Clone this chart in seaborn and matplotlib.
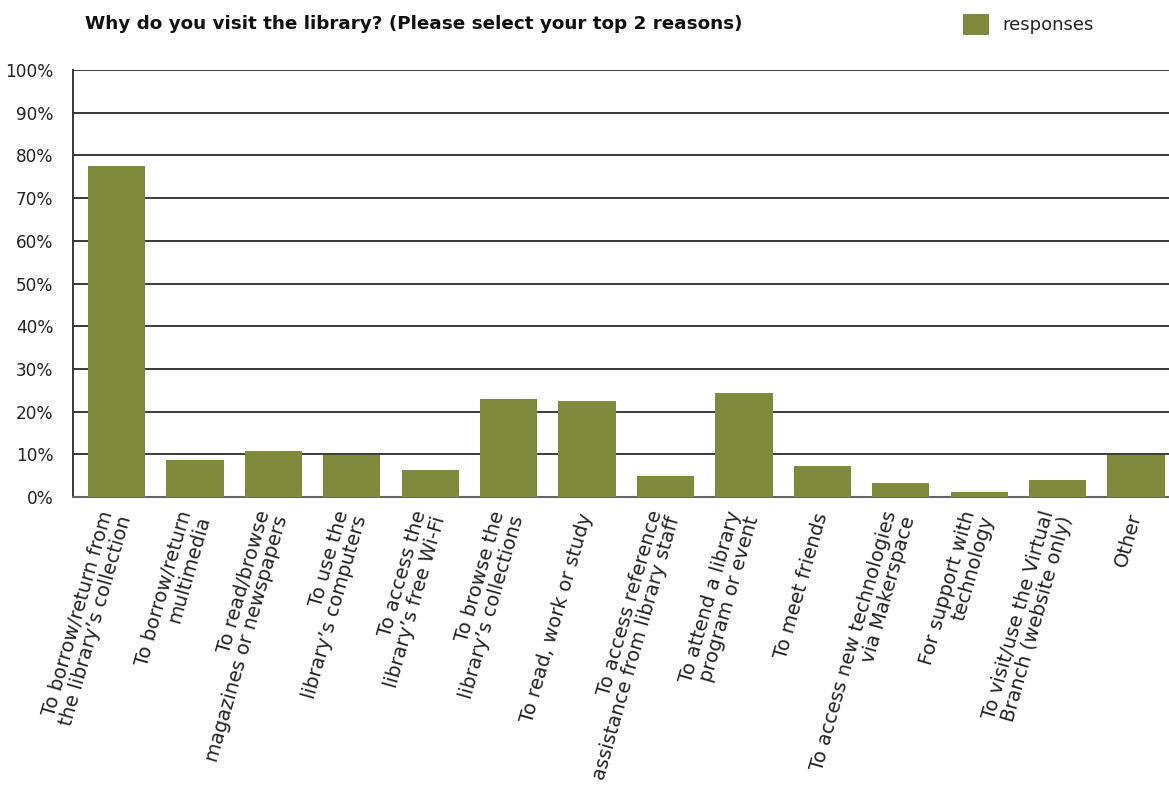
import matplotlib
matplotlib.use("Agg")
import matplotlib.pyplot as plt
from matplotlib.patches import Patch
from matplotlib.ticker import FuncFormatter
import seaborn as sns
import pandas as pd

reasons = [
    "To borrow/return from\nthe library’s collection",
    "To borrow/return\nmultimedia",
    "To read/browse\nmagazines or newspapers",
    "To use the\nlibrary’s computers",
    "To access the\nlibrary’s free Wi-Fi",
    "To browse the\nlibrary’s collections",
    "To read, work or study",
    "To access reference\nassistance from library staff",
    "To attend a library\nprogram or event",
    "To meet friends",
    "To access new technologies\nvia Makerspace",
    "For support with\ntechnology",
    "To visit/use the Virtual\nBranch (website only)",
    "Other",
]
responses = [77.5, 8.7, 10.8, 9.8, 6.3, 23.0, 22.5, 4.9, 24.4, 7.3, 3.3, 1.2, 4.0, 9.8]
y_ticks = [0, 10, 20, 30, 40, 50, 60, 70, 80, 90, 100]

title = "Why do you visit the library? (Please select your top 2 reasons)"
legend_label = "responses"
bar_color = "#808A3C"
text_color = "#222222"

sns.set_theme(style="white")
plt.rcParams["font.family"] = ["DejaVu Sans"]

df = pd.DataFrame({"reason": reasons, "value": responses})

fig = plt.figure(figsize=(11.69, 7.87), dpi=100)
ax = fig.add_axes([0.0624, 0.3685, 0.9376, 0.5425])

sns.barplot(data=df, x="reason", y="value", color=bar_color, width=0.73,
            saturation=1, linewidth=0, edgecolor="none", ax=ax, zorder=3)

ax.set_ylim(0, 100)
ax.set_xlim(-0.555, 13.42)
ax.set_yticks(y_ticks)
ax.yaxis.set_major_formatter(FuncFormatter(lambda v, p: f"{int(v)}%"))
for v in y_ticks:
    ax.axhline(v, color="#2b2b2b", lw=1.3, zorder=1)

ax.set_xlabel("")
ax.set_ylabel("")
for side in ["top", "right"]:
    ax.spines[side].set_visible(False)
ax.spines["left"].set_color("#2b2b2b")
ax.spines["left"].set_linewidth(1.3)
ax.spines["bottom"].set_color("#666666")
ax.spines["bottom"].set_linewidth(1.5)
ax.tick_params(axis="y", length=0, pad=14, labelsize=12.2, labelcolor=text_color)
ax.tick_params(axis="x", length=0, pad=12, labelsize=14, labelcolor=text_color)
for lbl in ax.get_xticklabels():
    lbl.set_rotation(74)
    lbl.set_ha("right")
    lbl.set_va("center")
    lbl.set_rotation_mode("anchor")
    lbl.set_multialignment("right")
    lbl.set_linespacing(1.0)

fig.text(0.073, 0.969, title, fontsize=13.2, fontweight="bold", ha="left",
         va="center", color="#111111")

handle = Patch(facecolor=bar_color, edgecolor="none")
fig.legend([handle], [legend_label], loc="center left",
           bbox_to_anchor=(0.81, 0.969), frameon=False, fontsize=13,
           handlelength=1.45, handleheight=1.45, handletextpad=0.75,
           labelcolor=text_color)

fig.savefig("out.png", dpi=100)
